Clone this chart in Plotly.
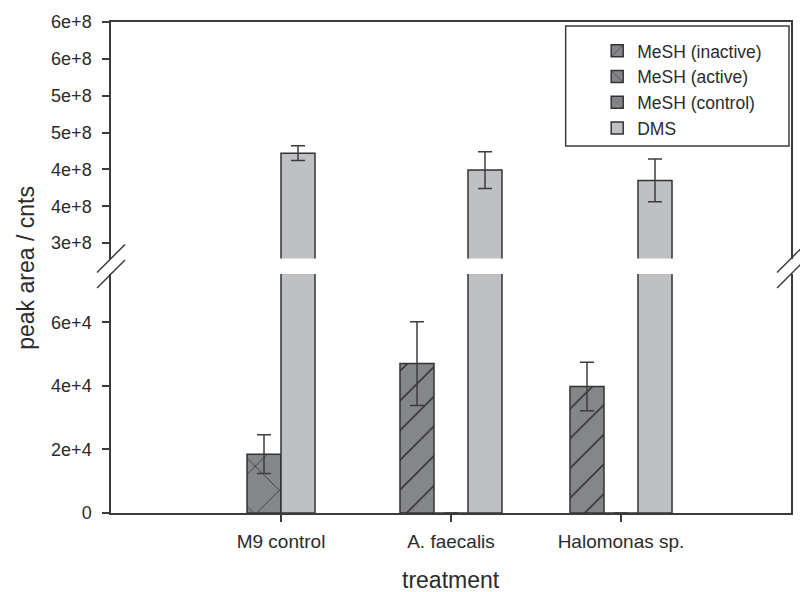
import plotly.graph_objects as go

# ---- data -------------------------------------------------------------
categories = ["M9 control", "A. faecalis", "Halomonas sp."]
series_names = ["MeSH (inactive)", "MeSH (active)", "MeSH (control)", "DMS"]

mesh_inactive = [None, 4.70e4, 3.98e4]
mesh_inactive_err = [0, 1.32e4, 0.76e4]
mesh_active = [None, 0, 0]
mesh_active_err = [0, 0, 0]
mesh_control = [1.85e4, None, None]
mesh_control_err = [0.61e4, 0, 0]
dms = [4.22e8, 3.99e8, 3.85e8]
dms_err = [0.10e8, 0.25e8, 0.29e8]

low_tickvals = [0, 2e4, 4e4, 6e4]
low_ticktext = ["0", "2e+4", "4e+4", "6e+4"]

# ---- styling ----------------------------------------------------------
FONT = "Liberation Sans"
INK = "#2b2b2b"
AXIS = "#3c3c3c"
DARK_FILL = "#85868a"
LIGHT_FILL = "#bfc0c4"
BAR_W = 0.2
W, H = 800, 592
M_L, M_R, M_T, M_B = 111, 7, 22, 79
PW, PH = W - M_L - M_R, H - M_T - M_B

values = [mesh_inactive, mesh_active, mesh_control, dms]
errors = [mesh_inactive_err, mesh_active_err, mesh_control_err, dms_err]
patterns = [
    dict(shape="/", size=21, solidity=0.07, fgcolor="#2a2a2a", bgcolor=DARK_FILL, fgopacity=1),
    dict(shape="\\", size=21, solidity=0.07, fgcolor="#2a2a2a", bgcolor=DARK_FILL, fgopacity=1),
    dict(shape="x", size=34, solidity=0.04, fgcolor="#2a2a2a", bgcolor=DARK_FILL, fgopacity=1),
    dict(shape=""),
]
fills = [DARK_FILL, DARK_FILL, DARK_FILL, LIGHT_FILL]

# bars present in each group sit side by side, centred on the category
offsets = [[0.0] * len(categories) for _ in values]
for i in range(len(categories)):
    present = [s for s in range(len(values)) if values[s][i] is not None]
    n = len(present)
    for k, s in enumerate(present):
        offsets[s][i] = (k - n / 2) * BAR_W

xpos = list(range(len(categories)))

fig = go.Figure()


def err_dict(arr, show=True):
    return dict(type="data", array=arr, visible=show, color=AXIS,
                thickness=1.5, width=7)


for s, name in enumerate(series_names[:3]):
    fig.add_trace(go.Bar(
        x=xpos, y=values[s], name=name, width=BAR_W, offset=offsets[s],
        marker=dict(color=fills[s], pattern=patterns[s],
                    line=dict(color="#333333", width=1.5)),
        error_y=err_dict(errors[s]),
        xaxis="x", yaxis="y", legendrank=s + 1,
    ))

# DMS: upper (broken) panel carries the error bars and the legend entry
fig.add_trace(go.Bar(
    x=xpos, y=dms, name=series_names[3], width=BAR_W, offset=offsets[3],
    marker=dict(color=LIGHT_FILL, line=dict(color="#333333", width=1.5)),
    error_y=err_dict(dms_err),
    xaxis="x2", yaxis="y2", legendrank=4,
))
fig.add_trace(go.Bar(
    x=xpos, y=dms, name=series_names[3], width=BAR_W, offset=offsets[3],
    marker=dict(color=LIGHT_FILL, line=dict(color="#333333", width=1.5)),
    showlegend=False, xaxis="x", yaxis="y",
))

low_dom = [0.0, 0.4868]
up_dom = [0.5183, 1.0]

axis_common = dict(showline=True, linecolor=AXIS, linewidth=1.5,
                   showgrid=False, zeroline=False,
                   tickcolor=AXIS, tickwidth=1.5)
y_tickfont = dict(family=FONT, size=18, color=INK)
x_tickfont = dict(family=FONT, size=19, color=INK)

fig.update_layout(
    width=W, height=H,
    margin=dict(l=M_L, r=M_R, t=M_T, b=M_B),
    paper_bgcolor="white", plot_bgcolor="white",
    barmode="overlay",
    font=dict(family=FONT, color=INK),
    xaxis=dict(domain=[0, 1], range=[-1, 3], anchor="y",
               tickvals=xpos, ticktext=categories, tickfont=x_tickfont,
               ticks="outside", ticklen=7, ticklabelstandoff=3, **axis_common),
    xaxis2=dict(domain=[0, 1], matches="x", anchor="y2", side="top",
                showticklabels=False, ticks="", **axis_common),
    yaxis=dict(domain=low_dom, range=[0, 7.52e4], anchor="x",
               tickvals=low_tickvals, ticktext=low_ticktext, tickfont=y_tickfont,
               ticks="outside", ticklen=7, ticklabelstandoff=7,
               mirror=True, **axis_common),
    yaxis2=dict(domain=up_dom, range=[2.79e8, 6.0e8], anchor="x2",
                tick0=3e8, dtick=0.5e8, tickformat=".0e", tickfont=y_tickfont,
                ticks="outside", ticklen=7, ticklabelstandoff=7,
                mirror=True, **axis_common),
    legend=dict(x=0.715, y=0.978, xanchor="left", yanchor="top",
                bgcolor="rgba(0,0,0,0)", borderwidth=0,
                font=dict(family=FONT, size=17.5, color=INK),
                tracegroupgap=0),
    showlegend=True,
)

# axis titles
fig.add_annotation(text="peak area / cnts", xref="paper", yref="paper",
                   x=-(M_L - 25) / PW, y=0.5, xanchor="center", yanchor="middle",
                   textangle=-90, showarrow=False,
                   font=dict(family=FONT, size=23, color=INK))
fig.add_annotation(text="treatment", xref="paper", yref="paper",
                   x=0.5, y=-(580 - (M_T + PH)) / PH, xanchor="center",
                   yanchor="middle", showarrow=False,
                   font=dict(family=FONT, size=23, color=INK))

# legend frame
fig.add_shape(type="rect", xref="paper", yref="paper",
              x0=1 - 226 / PW, x1=1 - 2 / PW,
              y0=1 - 4 / PH, y1=1 - 124 / PH,
              line=dict(color=AXIS, width=1.5), fillcolor="rgba(0,0,0,0)")

# axis break marks "//" on both vertical axes
dx, dy = 14 / PW, 14 / PH
for xa in (0, 1):
    for ya in (up_dom[0], low_dom[1]):
        fig.add_shape(type="line", xref="paper", yref="paper",
                      x0=xa - dx, x1=xa + dx, y0=ya - dy, y1=ya + dy,
                      line=dict(color=AXIS, width=1.5))

fig.write_html("out.html")
